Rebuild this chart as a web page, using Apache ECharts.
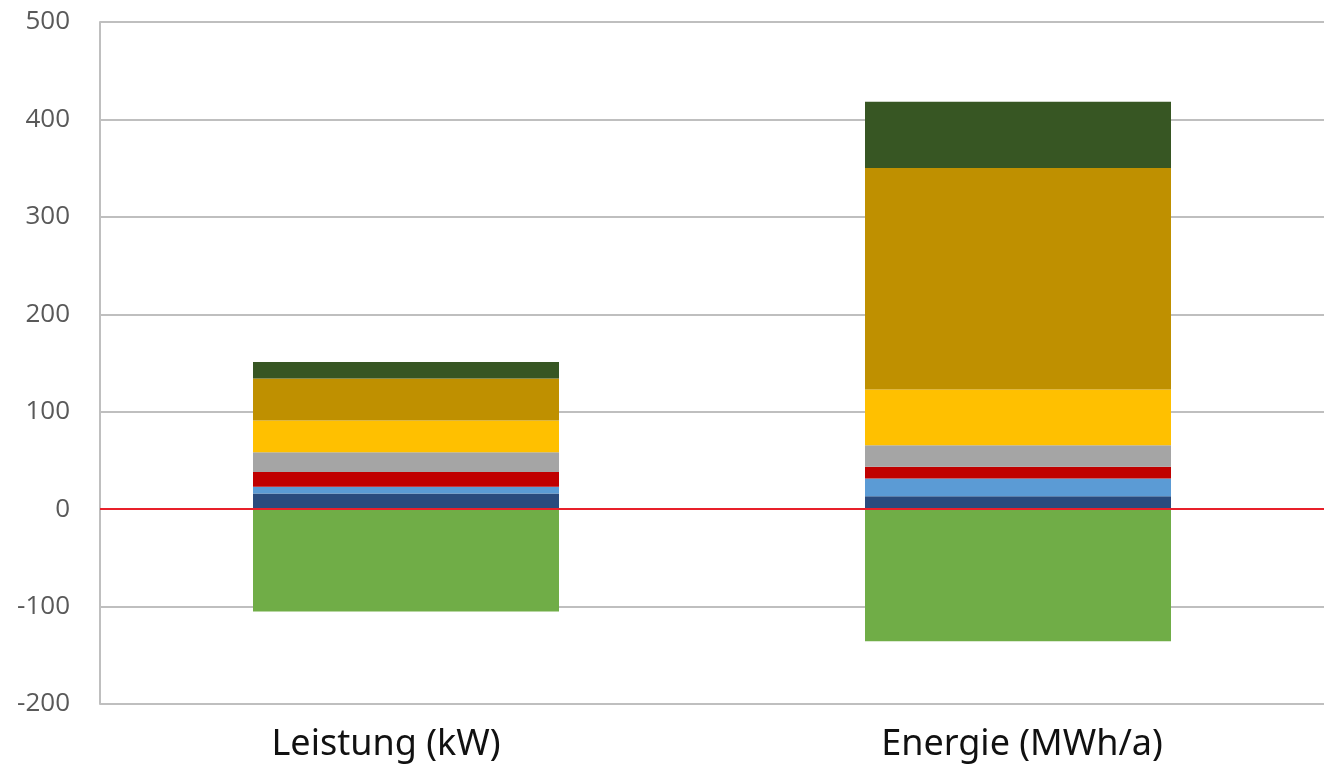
<!DOCTYPE html>
<html>
<head>
<meta charset="utf-8">
<script src="https://cdn.jsdelivr.net/npm/echarts@6/dist/echarts.min.js"></script>
<style>html,body{margin:0;padding:0;background:#fff;}#c{width:1324px;height:770px;}</style>
</head>
<body>
<div id="c"></div>
<script>
const categories = ['Leistung (kW)', 'Energie (MWh/a)'];
const yTicks = [-200, -100, 0, 100, 200, 300, 400, 500];
const seriesNames = ['dunkelblau', 'hellblau', 'rot', 'grau', 'gelb', 'gold', 'dunkelgrün', 'grün'];
const darkBlue = [16, 13.3];
const lightBlue = [7, 18.2];
const red = [15, 11.9];
const gray = [20.5, 22.3];
const yellow = [32.5, 57.2];
const gold = [43, 227.2];
const darkGreen = [17, 68.1];
const green = [-105, -135.5];

const colors = ['#2A4B7E', '#5B9BD5', '#C00000', '#A5A5A5', '#FFC000', '#BF9000', '#375623', '#70AD47'];
const values = [darkBlue, lightBlue, red, gray, yellow, gold, darkGreen, green];

const series = values.map((v, i) => ({
  name: seriesNames[i],
  type: 'bar',
  stack: 'total',
  barWidth: '50%',
  data: v,
  itemStyle: { color: colors[i] },
  silent: true
}));
series[0].markLine = {
  silent: true,
  symbol: 'none',
  label: { show: false },
  lineStyle: { color: '#E8202A', width: 2, type: 'solid' },
  data: [{ yAxis: 0 }],
  z: 10
};

const catData = categories.map((c, i) => i === 0
  ? { value: c, textStyle: { padding: [0, 40, 0, 0] } }
  : { value: c, textStyle: { padding: [0, 0, 0, 8] } });

const chart = echarts.init(document.getElementById('c'), null, { renderer: 'canvas' });
chart.setOption({
  animation: false,
  backgroundColor: '#ffffff',
  grid: { left: 100, right: 0, top: 22, bottom: 66, containLabel: false },
  xAxis: {
    type: 'category',
    data: catData,
    axisLine: { show: false },
    axisTick: { show: false },
    axisLabel: { fontSize: 36, color: '#111', margin: 23, fontFamily: 'Noto Sans' }
  },
  yAxis: {
    type: 'value',
    min: yTicks[0],
    max: yTicks[yTicks.length - 1],
    interval: 100,
    axisLine: { show: true, lineStyle: { color: '#BFBFBF', width: 2 } },
    axisTick: { show: false },
    splitLine: { show: true, lineStyle: { color: '#BFBFBF', width: 2 } },
    axisLabel: { fontSize: 26, color: '#595959', margin: 30, fontFamily: 'Open Sans' }
  },
  series: series
});
</script>
</body>
</html>
